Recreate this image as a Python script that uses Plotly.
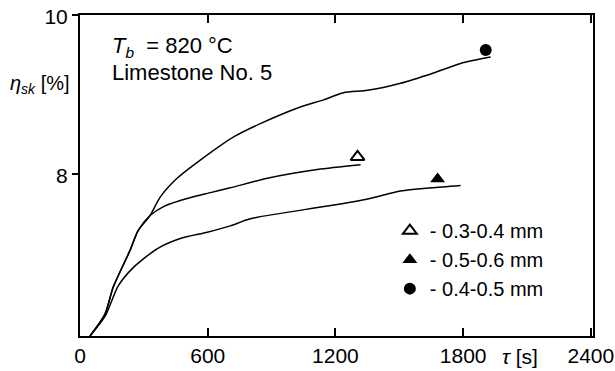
import plotly.graph_objects as go

# Curves (tau [s], eta_sk [%])
t_a = [47, 118, 155, 235, 273, 329, 376, 456, 565, 720, 847, 1035, 1144, 1238, 1351, 1506, 1661, 1788, 1929]
e_a = [5.95, 6.23, 6.56, 7.03, 7.28, 7.47, 7.70, 7.94, 8.17, 8.46, 8.63, 8.84, 8.93, 9.02, 9.05, 9.14, 9.27, 9.39, 9.47]

t_b = [47, 118, 155, 235, 273, 329, 390, 471, 598, 706, 880, 1115, 1318]
e_b = [5.95, 6.23, 6.56, 7.03, 7.28, 7.47, 7.58, 7.66, 7.75, 7.82, 7.94, 8.05, 8.11]

t_c = [47, 118, 179, 249, 362, 471, 598, 706, 800, 1162, 1351, 1506, 1650, 1788]
e_c = [5.95, 6.20, 6.58, 6.81, 7.05, 7.18, 7.26, 7.34, 7.43, 7.59, 7.68, 7.78, 7.82, 7.85]

# End markers
m_tri_open = ([1304], [8.21])
m_tri_fill = ([1680], [7.93])
m_circle = ([1906], [9.56])

labels = ["- 0.3-0.4 mm", "- 0.5-0.6 mm", "- 0.4-0.5 mm"]
xticks = [0, 600, 1200, 1800, 2400]
yticks = [8, 10]

FONT = "Liberation Sans, Arial, sans-serif"
fig = go.Figure()
for t, e in [(t_a, e_a), (t_b, e_b), (t_c, e_c)]:
    fig.add_trace(go.Scatter(x=t, y=e, mode="lines",
                             line=dict(color="black", width=1.5, shape="spline", smoothing=0.7),
                             showlegend=False, hoverinfo="skip"))

fig.add_trace(go.Scatter(x=m_tri_open[0], y=m_tri_open[1], mode="markers", name=labels[0],
                         marker=dict(symbol="triangle-up-open", size=12, color="black", line=dict(width=2))))
fig.add_trace(go.Scatter(x=m_tri_fill[0], y=m_tri_fill[1], mode="markers", name=labels[1],
                         marker=dict(symbol="triangle-up", size=13, color="black")))
fig.add_trace(go.Scatter(x=m_circle[0], y=m_circle[1], mode="markers", name=labels[2],
                         marker=dict(symbol="circle", size=12, color="black")))

fig.update_layout(
    width=615, height=371,
    margin=dict(l=80, r=22, t=15, b=35, autoexpand=False),
    paper_bgcolor="white", plot_bgcolor="white",
    font=dict(family=FONT, size=21, color="black"),
    showlegend=True,
    legend=dict(x=0.604, y=0.389, xanchor="left", yanchor="top", bgcolor="rgba(0,0,0,0)",
                font=dict(size=20), itemwidth=30, tracegroupgap=0),
    xaxis=dict(range=[0, 2410], tickvals=xticks, ticktext=["0", "600", "1200", "1800", "2400"],
               automargin=False, tickfont=dict(size=21), ticklabeloverflow="allow",
               showgrid=False, zeroline=False, showline=True, linecolor="black", linewidth=2,
               mirror="ticks", ticks="inside", ticklen=8, tickcolor="black", tickwidth=1.5),
    yaxis=dict(range=[5.95, 10.001], tickvals=yticks, showgrid=False, zeroline=False, showline=True,
               automargin=False, tickfont=dict(size=21), ticklabeloverflow="allow",
               ticklabelshift=2,
               linecolor="black", linewidth=2, mirror=True, ticks="outside", ticklen=6,
               tickcolor="black", tickwidth=1.5),
)

fig.add_annotation(xref="paper", yref="paper", x=-0.0156, y=0.782, xanchor="right", yanchor="middle",
                   text="<i>η<sub>sk</sub></i> [%]", showarrow=False, font=dict(size=20))
fig.add_annotation(xref="paper", yref="paper", x=0.058, y=0.90, xanchor="left", yanchor="middle",
                   text="<i>T<sub>b</sub></i>  = 820 °C", showarrow=False, font=dict(size=22))
fig.add_annotation(xref="paper", yref="paper", x=0.058, y=0.822, xanchor="left", yanchor="middle",
                   text="Limestone No. 5", showarrow=False, font=dict(size=22))
fig.add_annotation(xref="paper", yref="paper", x=0.858, y=-0.065, xanchor="center", yanchor="middle",
                   text="<i>τ</i> [s]", showarrow=False, font=dict(size=21))

# remove the browser's default 8px body margin so the figure sits at the page origin
fig.write_html("out.html", config={"displayModeBar": False},
               post_script="document.body.style.margin='0px';")
